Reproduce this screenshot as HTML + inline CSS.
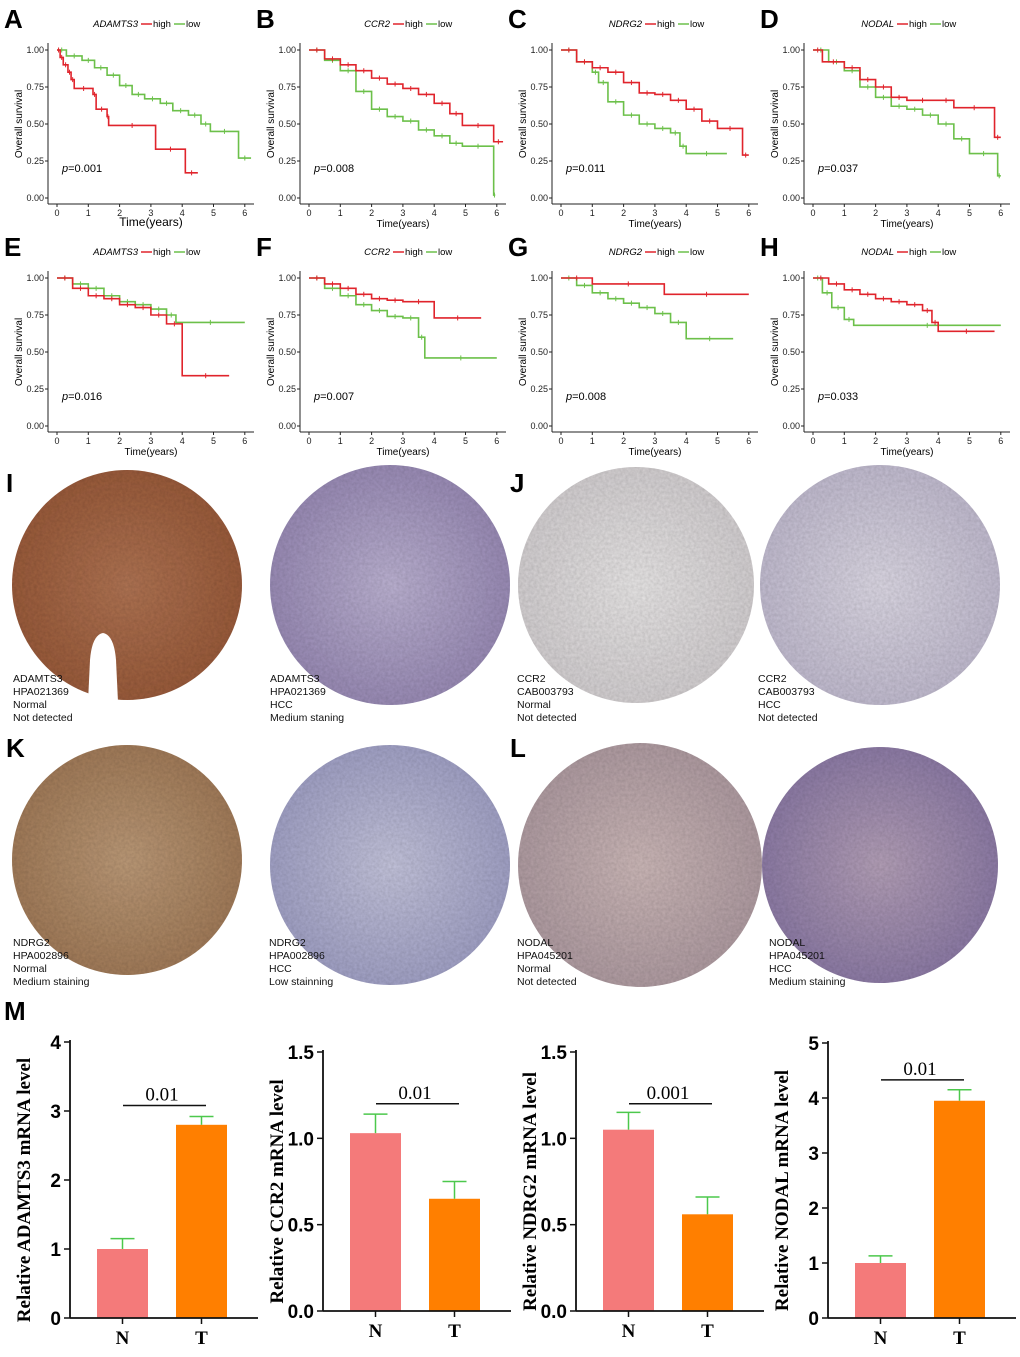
<!DOCTYPE html>
<html><head><meta charset="utf-8">
<style>
body{margin:0;background:#fff;}
svg{display:block;font-family:"Liberation Sans",sans-serif;}
</style></head><body>
<svg id="fig" width="1020" height="1357" viewBox="0 0 1020 1357" xmlns="http://www.w3.org/2000/svg">
<defs>
<filter id="tex" x="0" y="0" width="100%" height="100%">
<feTurbulence type="fractalNoise" baseFrequency="0.35" numOctaves="2" seed="3" result="n"/>
<feColorMatrix in="n" type="matrix" values="0 0 0 0 0  0 0 0 0 0  0 0 0 0 0  0 0 0 0.3 0" result="a"/>
<feComposite in="a" in2="SourceGraphic" operator="in" result="b"/>
<feMerge><feMergeNode in="SourceGraphic"/><feMergeNode in="b"/></feMerge>
</filter>
</defs>
</svg>
<script>
const NS="http://www.w3.org/2000/svg";
const svg=document.getElementById('fig');
function mk(tag,attrs,parent,text){const e=document.createElementNS(NS,tag);for(const k in attrs)e.setAttribute(k,attrs[k]);if(text!==undefined)e.textContent=text;(parent||svg).appendChild(e);return e;}

// ---------- KM data ----------
const kmGenes=["ADAMTS3","CCR2","NDRG2","NODAL","ADAMTS3","CCR2","NDRG2","NODAL"];
const kmLetters=["A","B","C","D","E","F","G","H"];
const kmPvals=["0.001","0.008","0.011","0.037","0.016","0.007","0.008","0.033"];
const kmXTicks=[0,1,2,3,4,5,6];
const kmYTicks=["0.00","0.25","0.50","0.75","1.00"];
const kmHigh=[
[[0,1],[0.1,0.95],[0.2,0.9],[0.35,0.85],[0.45,0.8],[0.55,0.74],[1.15,0.7],[1.25,0.6],[1.6,0.55],[1.65,0.49],[3.15,0.33],[4.1,0.17],[4.5,0.17]],
[[0,1],[0.5,0.94],[1,0.9],[1.5,0.86],[2,0.81],[2.5,0.77],[3,0.74],[3.5,0.7],[4,0.64],[4.5,0.57],[4.9,0.49],[5.9,0.38],[6.2,0.38]],
[[0,1],[0.5,0.92],[1,0.88],[1.5,0.85],[2,0.78],[2.5,0.71],[3,0.7],[3.5,0.66],[4,0.6],[4.5,0.52],[5,0.47],[5.8,0.29],[6,0.29]],
[[0,1],[0.3,0.92],[1,0.88],[1.5,0.8],[2,0.75],[2.5,0.68],[3,0.66],[4,0.66],[4.5,0.61],[5.8,0.41],[6,0.41]],
[[0,1],[0.5,0.93],[1,0.88],[1.5,0.86],[2,0.82],[2.5,0.8],[3,0.75],[3.5,0.69],[4,0.34],[5.5,0.34]],
[[0,1],[0.5,0.96],[1,0.93],[1.5,0.89],[2,0.86],[2.5,0.85],[3,0.84],[4,0.73],[5.5,0.73]],
[[0,1],[1,0.96],[3.3,0.89],[6,0.89]],
[[0,1],[0.5,0.96],[1,0.92],[1.5,0.89],[2,0.86],[2.5,0.84],[3,0.82],[3.5,0.78],[3.8,0.7],[4,0.64],[5.8,0.64]]
];
const kmLow=[
[[0,1],[0.3,0.96],[0.8,0.93],[1.2,0.88],[1.6,0.83],[2,0.76],[2.4,0.7],[2.8,0.67],[3.3,0.64],[3.7,0.59],[4.2,0.56],[4.6,0.5],[4.9,0.45],[5.8,0.27],[6.2,0.27]],
[[0,1],[0.5,0.93],[1,0.86],[1.5,0.72],[2,0.6],[2.5,0.55],[3,0.52],[3.5,0.46],[4,0.42],[4.5,0.37],[4.9,0.35],[5.9,0.02],[5.95,0.02]],
[[0,1],[0.5,0.92],[1,0.85],[1.2,0.78],[1.5,0.65],[2,0.56],[2.5,0.5],[3,0.47],[3.5,0.44],[3.8,0.35],[4,0.3],[5.3,0.3]],
[[0,1],[0.5,0.92],[1,0.86],[1.5,0.75],[2,0.68],[2.5,0.62],[3,0.6],[3.5,0.56],[4,0.5],[4.5,0.4],[5,0.3],[5.9,0.15],[6,0.15]],
[[0,1],[0.5,0.96],[1,0.93],[1.5,0.88],[2,0.84],[2.5,0.82],[3,0.79],[3.5,0.75],[3.8,0.7],[6,0.7]],
[[0,1],[0.5,0.93],[1,0.88],[1.5,0.82],[2,0.78],[2.5,0.74],[3,0.73],[3.5,0.6],[3.7,0.46],[6,0.46]],
[[0,1],[0.5,0.95],[1,0.9],[1.5,0.86],[2,0.83],[2.5,0.8],[3,0.76],[3.5,0.7],[4,0.59],[5.5,0.59]],
[[0,1],[0.3,0.9],[0.6,0.8],[1,0.72],[1.3,0.68],[6,0.68]]
];
const RED="#e0242c",GREEN="#6cc04a";

function stepPath(pts,xs,ys){let d="M"+xs(pts[0][0])+","+ys(pts[0][1]);for(let i=1;i<pts.length;i++){d+="H"+xs(pts[i][0])+"V"+ys(pts[i][1]);}return d;}

for(let p=0;p<8;p++){
  const ox=(p%4)*252, oy=Math.floor(p/4)*228;
  const g=mk('g',{},svg);
  
  
  const xs=t=>ox+57+t*31.3, ys=s=>oy+198-s*148;
  const L=mk('text',{x:ox+4,y:oy+28,'font-size':26,'font-weight':'bold'},g,kmLetters[p]);
  
  const lg=mk('g',{'font-size':9.5},g);
  
  mk('text',{x:ox+138,y:oy+27,'font-style':'italic','text-anchor':'end'},lg,kmGenes[p]);
  mk('line',{x1:ox+141,y1:oy+24,x2:ox+152,y2:oy+24,stroke:RED,'stroke-width':1.5},lg);
  mk('text',{x:ox+153,y:oy+27},lg,"high");
  mk('line',{x1:ox+174,y1:oy+24,x2:ox+185,y2:oy+24,stroke:GREEN,'stroke-width':1.5},lg);
  mk('text',{x:ox+186,y:oy+27},lg,"low");
  const ax=mk('g',{stroke:'#222','stroke-width':1},g);
  
  mk('line',{x1:ox+48,y1:oy+43,x2:ox+48,y2:oy+204},ax);
  mk('line',{x1:ox+48,y1:oy+204,x2:ox+254,y2:oy+204},ax);
  kmXTicks.forEach(t=>{mk('line',{x1:xs(t),y1:oy+204,x2:xs(t),y2:oy+207},ax);
    mk('text',{x:xs(t),y:oy+216,'font-size':9,'text-anchor':'middle',stroke:'none',fill:'#222'},g,t);});
  kmYTicks.forEach(v=>{const y=ys(+v);mk('line',{x1:ox+45,y1:y,x2:ox+48,y2:y},ax);
    mk('text',{x:ox+44,y:y+3,'font-size':9,'text-anchor':'end',fill:'#222'},g,v);});
  const yt=mk('text',{x:0,y:0,'font-size':10,'text-anchor':'middle',transform:`translate(${ox+22},${oy+124}) rotate(-90)`},g,"Overall survival");
  
  const big=(p===0);
  const xt=mk('text',{x:ox+151,y:oy+(big?226:227),'font-size':big?12:10,'text-anchor':'middle'},g,"Time(years)");
  
  const pv=mk('text',{x:ox+62,y:oy+172,'font-size':11},g);
  mk('tspan',{'font-style':'italic'},pv,"p");mk('tspan',{},pv,"="+kmPvals[p]);
  
  [[kmLow[p],GREEN,'low'],[kmHigh[p],RED,'high']].forEach(([pts,c,n])=>{
    const path=mk('path',{d:stepPath(pts,xs,ys),fill:'none',stroke:c,'stroke-width':1.6},g);
    
    for(let i=1;i<pts.length;i++){const x=(xs(pts[i-1][0])+xs(pts[i][0]))/2,y=ys(pts[i-1][1]);
      mk('line',{x1:x,y1:y-2.5,x2:x,y2:y+2.5,stroke:c,'stroke-width':1},g);}
  });
}

// ---------- IHC panels ----------
const ihc=[
 {cx:127,cy:585,r:115,c1:"#b07454",c2:"#9a5c3c",lab:["ADAMTS3","HPA021369","Normal","Not detected"],lx:13,ly:682,L:"I"},
 {cx:390,cy:585,r:120,c1:"#bcb2d2",c2:"#9a8cb6",lab:["ADAMTS3","HPA021369","HCC","Medium staning"],lx:270,ly:682},
 {cx:636,cy:585,r:118,c1:"#e8e6e6",c2:"#d4d0d2",lab:["CCR2","CAB003793","Normal","Not detected"],lx:517,ly:682,L:"J"},
 {cx:880,cy:585,r:120,c1:"#dcd8e4",c2:"#c2bcd0",lab:["CCR2","CAB003793","HCC","Not detected"],lx:758,ly:682},
 {cx:127,cy:860,r:115,c1:"#bc9a78",c2:"#a27c5a",lab:["NDRG2","HPA002896","Normal","Medium staining"],lx:13,ly:946,L:"K"},
 {cx:390,cy:865,r:120,c1:"#c4c4dc",c2:"#a2a2c6",lab:["NDRG2","HPA002896","HCC","Low stainning"],lx:269,ly:946},
 {cx:640,cy:865,r:122,c1:"#ccb8b8",c2:"#b09ca2",lab:["NODAL","HPA045201","Normal","Not detected"],lx:517,ly:946,L:"L"},
 {cx:880,cy:865,r:118,c1:"#b4a0b8",c2:"#8e7ca6",lab:["NODAL","HPA045201","HCC","Medium staining"],lx:769,ly:946}
];
ihc.forEach((d,i)=>{
  const g=mk('g',{},svg);
  
  const gid='rg'+i;
  const rg=mk('radialGradient',{id:gid},svg.querySelector('defs'));
  mk('stop',{offset:'0%','stop-color':d.c1},rg);mk('stop',{offset:'100%','stop-color':d.c2},rg);
  mk('circle',{cx:d.cx,cy:d.cy,r:d.r,fill:`url(#${gid})`,filter:'url(#tex)'},g);
  if(d.L){const t=mk('text',{x:0,y:0,'font-size':26,'font-weight':'bold'},g,d.L);
    t.setAttribute('y',d.cy>700?757:492);t.setAttribute('x',d.L==='I'||d.L==='K'?6:510);
    }
  d.lab.forEach((s,k)=>mk('text',{x:d.lx,y:d.ly+k*13,'font-size':10.5,fill:'#111'},g,s));
});
const notch=mk('path',{d:'M88,702 L90,660 Q92,635 103,633 Q114,635 116,660 L118,702 Z',fill:'#fff'},svg);


// ---------- Bar charts ----------
const barGenes=["ADAMTS3","CCR2","NDRG2","NODAL"];
const barCats=["N","T"];
const barN=[1.0,1.03,1.05,1.0];
const barT=[2.8,0.65,0.56,3.95];
const errN=[0.15,0.11,0.1,0.13];
const errT=[0.12,0.1,0.1,0.2];
const barMax=[4,1.5,1.5,5];
const barTickStep=[1,0.5,0.5,1];
const sigLevel=[3.08,1.2,1.2,4.33];
const sigText=["0.01","0.01","0.001","0.01"];
const barTop=[1042,1052,1052,1043],barZero=[1318,1311,1311,1318];
const barAxisX=[70,323,576,828];

const M=mk('text',{x:4,y:1020,'font-size':26,'font-weight':'bold'},svg,"M");

for(let p=0;p<4;p++){
  const g=mk('g',{},svg);
  
  const ax=barAxisX[p],y0=barZero[p],yt=barTop[p];
  const ys=v=>y0-(v/barMax[p])*(y0-yt);
  const fills=["#f47a7a","#ff7f00"],vals=[barN[p],barT[p]],errs=[errN[p],errT[p]];
  [27,106].forEach((dx,k)=>{
    const b=mk('rect',{x:ax+dx,y:ys(vals[k]),width:51,height:y0-ys(vals[k]),fill:fills[k]},g);
    
    const cx=ax+dx+25.5;
    mk('line',{x1:cx,y1:ys(vals[k]),x2:cx,y2:ys(vals[k]+errs[k]),stroke:'#4cc84c','stroke-width':1.5},g);
    mk('line',{x1:cx-12,y1:ys(vals[k]+errs[k]),x2:cx+12,y2:ys(vals[k]+errs[k]),stroke:'#4cc84c','stroke-width':1.5},g);
    mk('line',{x1:cx,y1:y0,x2:cx,y2:y0+6,stroke:'#111','stroke-width':1.5},g);
    mk('text',{x:cx,y:y0+26,'font-size':19,'font-weight':'bold','font-family':'Liberation Serif','text-anchor':'middle'},g,barCats[k]);
  });
  mk('line',{x1:ax,y1:yt-2,x2:ax,y2:y0,stroke:'#111','stroke-width':1.8},g);
  mk('line',{x1:ax,y1:y0,x2:ax+188,y2:y0,stroke:'#111','stroke-width':1.8},g);
  for(let v=0;v<=barMax[p]+1e-9;v+=barTickStep[p]){
    mk('line',{x1:ax-6,y1:ys(v),x2:ax,y2:ys(v),stroke:'#111','stroke-width':1.5},g);
    mk('text',{x:ax-9,y:ys(v)+7,'font-size':19,'font-weight':'bold','text-anchor':'end'},g,barTickStep[p]<1?v.toFixed(1):v);
  }
  mk('line',{x1:ax+53,y1:ys(sigLevel[p]),x2:ax+136,y2:ys(sigLevel[p]),stroke:'#111','stroke-width':1.5},g);
  mk('text',{x:ax+92,y:ys(sigLevel[p])-5,'font-size':19,'font-family':'Liberation Serif','text-anchor':'middle'},g,sigText[p]);
  const t=mk('text',{x:0,y:0,'font-size':19,'font-weight':'bold','font-family':'Liberation Serif','text-anchor':'middle',transform:`translate(${ax-40},${(yt+y0)/2+10}) rotate(-90)`},g,"Relative "+barGenes[p]+" mRNA level");
  
}
</script>
</body></html>
